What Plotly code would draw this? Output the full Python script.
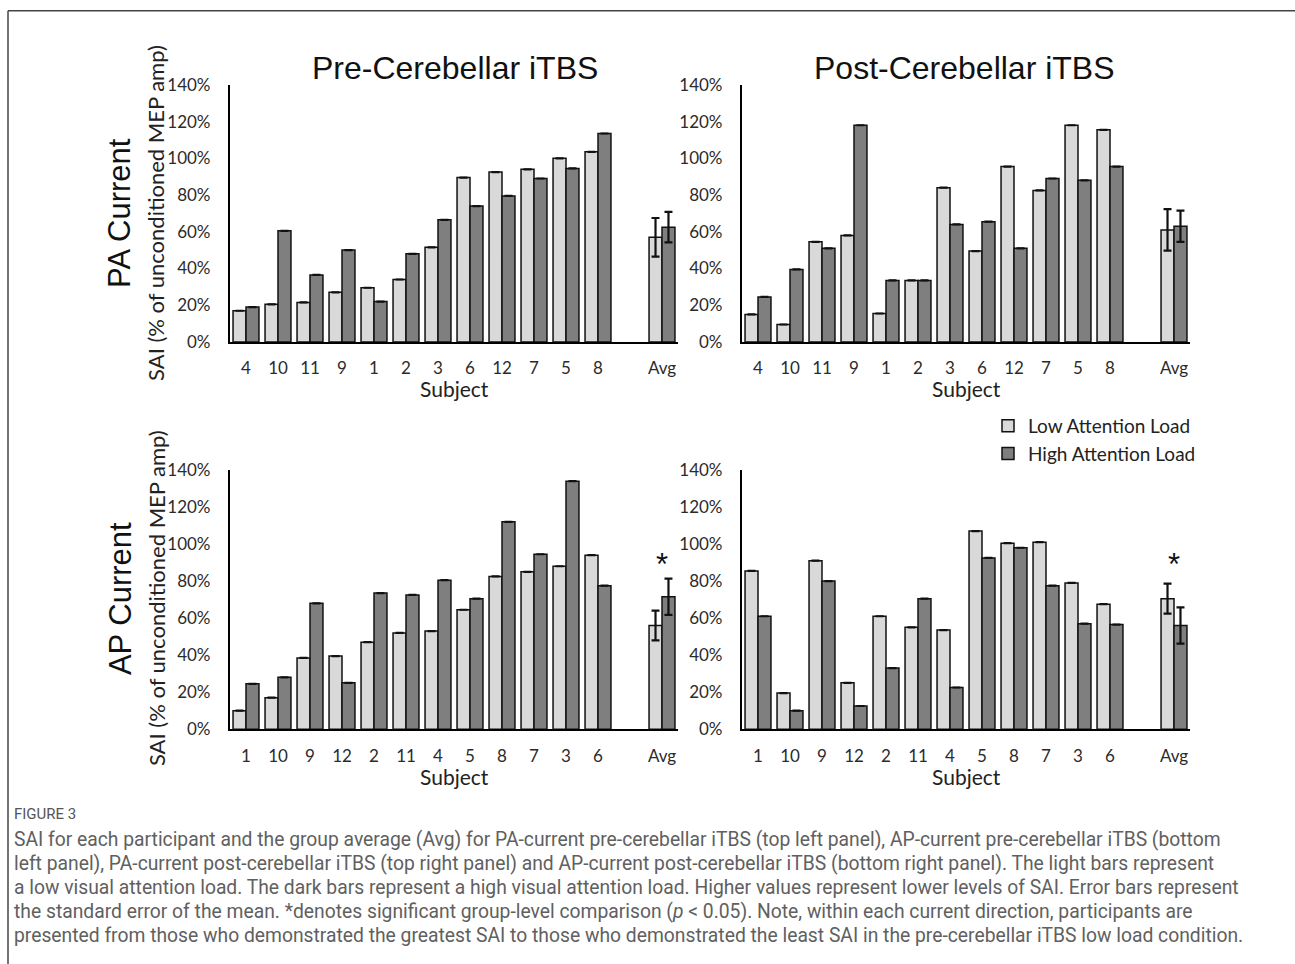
import plotly.graph_objects as go

W, H = 1295, 964          # reference picture size
FW, FH = 1295, 975        # figure size (page is photographed slightly squashed)
SHOT_OFF, SHOT_SCALE = 10.2, 0.978   # measured page-y -> picture-y mapping

# ---------------- data ----------------
subjects_pa = ["4", "10", "11", "9", "1", "2", "3", "6", "12", "7", "5", "8"]
subjects_ap = ["1", "10", "9", "12", "2", "11", "4", "5", "8", "7", "3", "6"]
spacer = " "
avg_label = "Avg"

pa_pre_low = [17, 20.5, 21.5, 27, 29.5, 34, 51.5, 89.5, 92.5, 94, 100, 103.5]
pa_pre_high = [19, 60.5, 36.5, 50, 22, 48, 66.5, 74, 79.5, 89, 94.5, 113.5]
pa_pre_avg = [57, 62.5]
pa_pre_se = [10.5, 8.3]

pa_post_low = [15, 9.5, 54.5, 58, 15.5, 33.5, 84, 49.5, 95.5, 82.5, 118, 115.5]
pa_post_high = [24.5, 39.5, 51, 118, 33.5, 33.5, 64, 65.5, 51, 89, 88, 95.5]
pa_post_avg = [61, 63]
pa_post_se = [11.3, 8.5]

ap_pre_low = [10, 17, 38.5, 39.5, 47, 52, 53, 64.5, 82.5, 85, 88, 94]
ap_pre_high = [24.5, 28, 68, 25, 73.5, 72.5, 80.5, 70.5, 112, 94.5, 134, 77.5]
ap_pre_avg = [56, 71.5]
ap_pre_se = [8, 9.8]

ap_post_low = [85.5, 19.5, 91, 25, 61, 55, 53.5, 107, 100.5, 101, 79, 67.5]
ap_post_high = [61, 10, 80, 12.5, 33, 70.5, 22.5, 92.5, 98, 77.5, 57, 56.5]
ap_post_avg = [70.5, 56]
ap_post_se = [8.1, 9.8]

series_names = ["Low Attention Load", "High Attention Load"]
y_ticks = [0, 20, 40, 60, 80, 100, 120, 140]
y_tick_text = [f"{v}%" for v in y_ticks]
col_titles = ["Pre-Cerebellar iTBS", "Post-Cerebellar iTBS"]
row_titles = ["PA Current", "AP Current"]
y_title = "SAI (% of unconditioned MEP amp)"
x_title = "Subject"
caption_head = "FIGURE 3"
caption_lines = [
    "SAI for each participant and the group average (Avg) for PA-current pre-cerebellar iTBS (top left panel), AP-current pre-cerebellar iTBS (bottom",
    "left panel), PA-current post-cerebellar iTBS (top right panel) and AP-current post-cerebellar iTBS (bottom right panel). The light bars represent",
    "a low visual attention load. The dark bars represent a high visual attention load. Higher values represent lower levels of SAI. Error bars represent",
    "the standard error of the mean. *denotes significant group-level comparison (<i>p</i> &lt; 0.05). Note, within each current direction, participants are",
    "presented from those who demonstrated the greatest SAI to those who demonstrated the least SAI in the pre-cerebellar iTBS low load condition.",
]
significant = [False, False, True, True]  # PA pre, PA post, AP pre, AP post
star_level = 89

# ---------------- styling ----------------
LIGHT = "#d9d9d9"
DARK = "#7f7f7f"
TICK_FONT = dict(family="Lato, Carlito, sans-serif", size=17, color="#2b2b2b")
LABEL_FONT = "Lato, Carlito, sans-serif"
ARIAL = "Liberation Sans, Arial, sans-serif"
CAPTION_FONT = "Roboto, sans-serif"


def px(x):
    return x / FW


def py(y):
    page_y = (y - SHOT_OFF) / SHOT_SCALE
    return 1 - page_y / FH


panels = [
    # (subjects, low, high, avg, se, x0, x1, y_top, y_bottom)
    (subjects_pa, pa_pre_low, pa_pre_high, pa_pre_avg, pa_pre_se, 230, 678, 84, 341),
    (subjects_pa, pa_post_low, pa_post_high, pa_post_avg, pa_post_se, 742, 1190, 84, 341),
    (subjects_ap, ap_pre_low, ap_pre_high, ap_pre_avg, ap_pre_se, 230, 678, 469, 728),
    (subjects_ap, ap_post_low, ap_post_high, ap_post_avg, ap_post_se, 742, 1190, 469, 728),
]

fig = go.Figure()
layout_axes = {}
annotations = []

for i, (subs, low, high, avg, se, x0, x1, yt, yb) in enumerate(panels):
    n = i + 1
    xa = "x" if n == 1 else f"x{n}"
    ya = "y" if n == 1 else f"y{n}"
    cats = subs + [spacer, avg_label]
    vals = [low, high]
    for k in range(2):
        yvals = vals[k] + [None, avg[k]]
        err = [None] * (len(subs) + 1) + [se[k]]
        fig.add_trace(go.Bar(
            x=cats, y=yvals, name=series_names[k],
            marker=dict(color=[LIGHT, DARK][k], line=dict(color="#111111", width=1.5)),
            error_y=dict(type="data", array=err, color="#111111", thickness=2.2, width=4, visible=True),
            xaxis=xa, yaxis=ya, showlegend=(n == 1), legendgroup=series_names[k],
            hoverinfo="x+y",
        ))
    layout_axes["xaxis" if n == 1 else f"xaxis{n}"] = dict(
        domain=[px(x0), px(x1)], anchor=ya, type="category",
        categoryorder="array", categoryarray=cats,
        showline=True, linecolor="#000000", linewidth=2.2,
        showgrid=False, zeroline=False, ticks="", tickfont=TICK_FONT,
        ticklabelstandoff=10,
    )
    layout_axes["yaxis" if n == 1 else f"yaxis{n}"] = dict(
        domain=[py(yb), py(yt)], anchor=xa, range=[0, 140],
        tickmode="array", tickvals=y_ticks, ticktext=y_tick_text,
        showline=True, linecolor="#000000", linewidth=2.2,
        showgrid=False, zeroline=False, ticks="", tickfont=TICK_FONT,
        ticklabelstandoff=14,
    )
    # x-axis title
    annotations.append(dict(x=px((x0 + x1) / 2), y=py(yb + 47), xref="paper", yref="paper",
                            text=x_title, showarrow=False,
                            font=dict(family=LABEL_FONT, size=21, color="#222222"),
                            xanchor="center", yanchor="middle"))
    if significant[i]:
        annotations.append(dict(
            x=avg_label, y=star_level, xref=xa, yref=ya, text="*",
            showarrow=False, font=dict(family=ARIAL, size=31, color="#111111"),
            xanchor="center", yanchor="middle",
        ))

# column titles
for t, cx in zip(col_titles, [455, 964]):
    annotations.append(dict(x=px(cx), y=py(67), xref="paper", yref="paper", text=t,
                            showarrow=False, font=dict(family=ARIAL, size=32, color="#111111"),
                            xanchor="center", yanchor="middle"))
# row titles and y-axis titles
for t, cy in zip(row_titles, [212, 598]):
    annotations.append(dict(x=px(120), y=py(cy), xref="paper", yref="paper", text=t,
                            showarrow=False, textangle=-90,
                            font=dict(family=ARIAL, size=31, color="#111111"),
                            xanchor="center", yanchor="middle"))
for cy in [212, 597]:
    annotations.append(dict(x=px(156), y=py(cy), xref="paper", yref="paper", text=y_title,
                            showarrow=False, textangle=-90,
                            font=dict(family=LABEL_FONT, size=22, color="#222222"),
                            xanchor="center", yanchor="middle"))

# caption
annotations.append(dict(x=px(12), y=py(813), xref="paper", yref="paper", text=caption_head,
                        showarrow=False, xanchor="left", yanchor="middle",
                        font=dict(family=CAPTION_FONT, size=15, color="#555555")))
for j, line in enumerate(caption_lines):
    annotations.append(dict(x=px(12), y=py(838 + 24 * j), xref="paper", yref="paper", text=line,
                            showarrow=False, xanchor="left", yanchor="middle",
                            font=dict(family=CAPTION_FONT, size=19.3, color="#606060")))

shapes = [
    dict(type="line", xref="paper", yref="paper", x0=px(8), x1=1.0, y0=py(10), y1=py(10),
         line=dict(color="#444444", width=1.5)),
    dict(type="line", xref="paper", yref="paper", x0=px(8), x1=px(8), y0=py(10), y1=0,
         line=dict(color="#444444", width=1.5)),
]

fig.update_layout(
    width=FW, height=FH,
    margin=dict(l=0, r=0, t=0, b=0),
    paper_bgcolor="white", plot_bgcolor="white",
    barmode="group", bargap=0.19, bargroupgap=0,
    legend=dict(x=px(988), y=py(406), xanchor="left", yanchor="top",
                font=dict(family=LABEL_FONT, size=19, color="#222222"),
                bgcolor="rgba(0,0,0,0)", tracegroupgap=0, itemwidth=30),
    annotations=annotations, shapes=shapes,
    **layout_axes,
)

fig.write_html(
    "out.html",
    config={"displayModeBar": False},
    post_script="document.body.style.margin='0';document.body.style.overflow='hidden';",
)
